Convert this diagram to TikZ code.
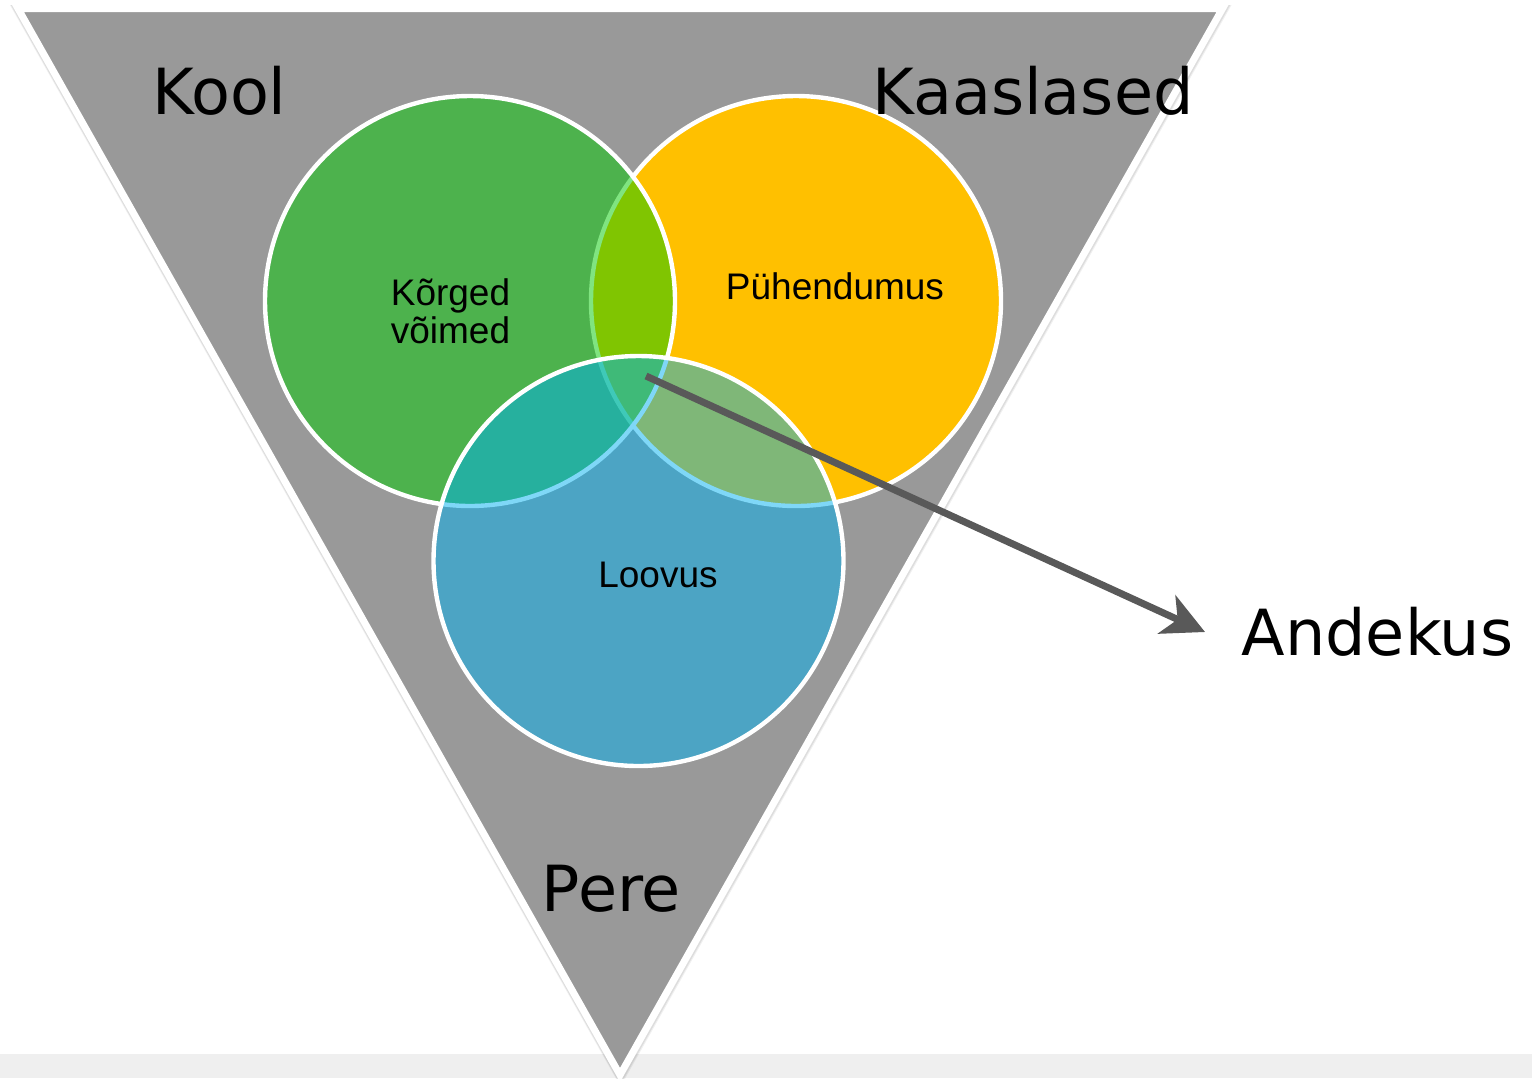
\documentclass[tikz,border=0pt]{standalone}
\usepackage{fontspec}
\setmainfont{DejaVu Sans}
\newfontfamily\arialfont{Liberation Sans}
\usetikzlibrary{arrows.meta}
\definecolor{trigray}{RGB}{153,153,153}
\definecolor{stripgray}{RGB}{239,239,239}
\definecolor{yel}{RGB}{255,192,0}
\definecolor{grn}{RGB}{3,203,3}
\definecolor{blu}{RGB}{0,176,240}
\definecolor{arrgray}{RGB}{89,89,89}
\begin{document}
\begin{tikzpicture}[x=0.5pt,y=-0.5pt,
  bigtext/.style={font=\fontsize{31.8}{36}\selectfont, inner sep=0pt, anchor=base, text=black},
  smalltext/.style={font=\arialfont\fontsize{18.5}{19}\selectfont, inner sep=0pt, anchor=base, text=black},
  venn/.style={circle, minimum size=205pt, inner sep=0pt, draw=white, line width=2.2pt},
  arrowline/.style={draw=arrgray, line width=3.5pt,
    -{Stealth[length=21pt, width=21pt, inset=6pt]}}]
\useasboundingbox (0,0) rectangle (1532,1078);
\fill[white] (0,0) rectangle (1532,1078);
% bottom strip
\fill[stripgray] (0,1054) rectangle (1532,1078);
% soft triangle shadow and triangle
\draw[black, opacity=0.06, line width=5pt, line join=miter]
  ([shift={(0.5,1.5)}]18,8.5) -- ([shift={(0.5,1.5)}]1222.5,8.5) -- ([shift={(0.5,1.5)}]620,1075) -- cycle;
\draw[black, opacity=0.08, line width=4.3pt, line join=miter]
  ([shift={(0.3,1)}]18,8.5) -- ([shift={(0.3,1)}]1222.5,8.5) -- ([shift={(0.3,1)}]620,1075) -- cycle;
\draw[fill=trigray, draw=white, line width=3.5pt, line join=miter]
  (18,8.5) -- (1222.5,8.5) -- (620,1075) -- cycle;
% circles
\node[venn, fill=yel] (yellow) at (796,301) {};
\node[venn, fill=grn, fill opacity=0.5] (green) at (470,301) {};
\node[venn, fill=blu, fill opacity=0.5] (blue) at (638.5,561) {};
% labels
\node[bigtext] (kool) at (219.5,114) {Kool};
\node[bigtext] (kaaslased) at (1033,114) {Kaaslased};
\node[bigtext] (pere) at (611.5,911) {Pere};
\node[bigtext] (andekus) at (1377.5,655) {Andekus};
\node[smalltext] (korged) at (450.5,305) {Kõrged};
\node[smalltext] (voimed) at (450.5,343) {võimed};
\node[smalltext] (puhendumus) at (835,299) {Pühendumus};
\node[smalltext] (loovus) at (658,587) {Loovus};
% arrow
\coordinate (arrstart) at (646,376);
\coordinate (arrtip) at (1205,632);
\draw[arrowline] (arrstart) -- (arrtip);
\end{tikzpicture}
\end{document}
